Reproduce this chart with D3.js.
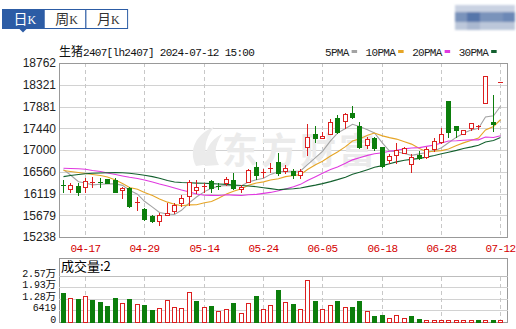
<!DOCTYPE html>
<html>
<head>
<meta charset="utf-8">
<script src="https://cdn.jsdelivr.net/npm/d3@7"></script>
<style>
  body { margin: 0; background: #fff; }
  svg { display: block; }
</style>
</head>
<body>
<div id="chart"></div>
<script>
// ─── Data ───
const dates = [
  '04-12','04-15','04-16','04-17','04-18','04-19','04-22','04-23','04-24','04-25',
  '04-26','04-29','04-30','05-06','05-07','05-08','05-09','05-10','05-13','05-14',
  '05-15','05-16','05-17','05-20','05-21','05-22','05-23','05-24','05-27','05-28',
  '05-29','05-30','05-31','06-03','06-04','06-05','06-06','06-07','06-11','06-12',
  '06-13','06-14','06-17','06-18','06-19','06-20','06-21','06-24','06-25','06-26',
  '06-27','06-28','07-01','07-02','07-03','07-04','07-05','07-09','07-11','07-12'
];
const opens = [
  16300,16205,16270,16255,16345,16350,16405,16393,16190,16225,
  15920,15805,15665,15570,15685,15765,15933,16060,16200,16250,
  16372,16262,16326,16393,16210,16358,16650,16528,16615,16751,
  16575,16575,16494,17067,17318,17253,17324,17654,17594,17756,
  17492,17101,17237,17055,16798,16899,16946,16717,16899,16852,
  17014,17168,17999,17486,17324,17440,17472,17958,17573,18370
];
const highs = [
  16390,16325,16325,16425,16460,16425,16420,16425,16257,16245,
  16055,15820,15685,15720,15920,15925,16080,16393,16393,16326,
  16393,16326,16460,16528,16291,16609,16763,16609,16731,16933,
  16700,16615,16615,17521,17492,17359,17628,17709,17743,17897,
  17573,17270,17270,17067,16913,17136,17055,16913,16980,17055,
  17237,17440,17999,17486,17405,17553,17507,18499,18114,18377
];
const lows = [
  16155,16155,16090,16155,16255,16255,16325,16145,16020,15840,
  15785,15580,15550,15480,15680,15725,15865,15885,16130,16156,
  16156,16204,16290,16204,16156,16346,16407,16460,16561,16494,
  16528,16439,16439,16899,17168,17237,17318,17338,17440,17642,
  17035,17047,17000,16662,16731,16731,16933,16561,16812,16832,
  16986,17148,17257,17257,17324,17405,17419,17958,17391,18370
];
const closes = [
  16285,16292,16155,16380,16360,16338,16330,16156,16237,15865,
  15940,15605,15570,15685,15715,15895,16028,16342,16257,16262,
  16225,16255,16407,16240,16255,16595,16494,16549,16636,16528,
  16642,16494,16575,17270,17237,17288,17561,17359,17723,17675,
  17067,17217,17047,16682,16879,17000,17035,16865,16832,17014,
  17189,17324,17371,17400,17405,17541,17492,18499,17527,18377
];
const prevClose = 16550;
const volumes = [
  16200,13440,12890,14380,12330,11060,9010,13440,10670,12890,
  10120,9400,6800,7910,12330,8460,7910,16760,11780,8460,
  9010,6080,7190,10670,4980,10510,14540,7190,9400,17860,
  11060,9950,7190,23060,11610,7190,9400,11610,8130,8300,
  11610,6080,3320,3870,2030,3700,2210,3320,1660,940,
  940,940,390,320,300,200,150,120,100,2
];
const ma5 = [
  16603,16494,16358,16332,16294,16305,16313,16313,16284,16185,
  16106,15961,15843,15733,15703,15694,15779,15933,16047,16157,
  16223,16268,16281,16278,16276,16350,16398,16427,16506,16560,
  16570,16570,16575,16702,16844,16973,17186,17343,17434,17521,
  17477,17408,17346,17138,16978,16965,16929,16892,16922,16949,
  16987,17045,17146,17260,17338,17408,17442,17667,17693,17887
];
const ma10 = [
  16585,16565,16544,16524,16504,16484,16454,16393,16322,16240,
  16205,16137,16078,16009,15944,15900,15870,15888,15890,15930,
  15958,16023,16107,16163,16217,16287,16333,16354,16392,16418,
  16460,16484,16501,16604,16702,16771,16878,16959,17068,17182,
  17225,17297,17344,17286,17250,17221,17168,17119,17030,16964,
  16976,16987,17019,17091,17144,17198,17243,17407,17476,17613
];
const ma20 = [
  16630,16626,16620,16610,16585,16565,16535,16504,16474,16447,
  16423,16393,16352,16312,16271,16231,16190,16150,16109,16085,
  16082,16080,16093,16086,16080,16093,16101,16121,16141,16174,
  16209,16254,16304,16383,16459,16529,16606,16656,16730,16800,
  16843,16891,16923,16945,16976,16996,17023,17039,17049,17073,
  17100,17142,17182,17188,17197,17209,17206,17263,17253,17288
];
const ma30 = [
  16460,16484,16504,16520,16528,16535,16539,16541,16539,16528,
  16510,16488,16460,16427,16383,16352,16342,16336,16330,16326,
  16318,16312,16304,16292,16281,16271,16257,16237,16217,16196,
  16208,16215,16229,16258,16288,16319,16360,16400,16450,16510,
  16548,16602,16651,16684,16723,16760,16793,16811,16830,16855,
  16887,16923,16955,16993,17032,17063,17097,17162,17191,17253
];
const priceTicks = [18762, 18321, 17881, 17440, 17000, 16560, 16119, 15679, 15238];
const volTicks = [0, 6419, 12838, 19257, 25676];
const volTickLabels = ['0', '6419', '1.28万', '1.93万', '2.57万'];
const dateTicks = ['04-17', '04-29', '05-14', '05-24', '06-05', '06-18', '06-28', '07-12'];
const tabs = ['日', '周', '月'];
const maNames = ['5PMA', '10PMA', '20PMA', '30PMA'];
const maSeries = [ma5, ma10, ma20, ma30];

// ─── Styles ───
const RED = '#dc1f1f';
const GREEN = '#0c7e0c';
const BLUE = '#2c5ca5';
const maColors = ['#a3a3a3', '#e6a526', '#e03ae0', '#13602e'];
const MONO = '"Liberation Mono", "DejaVu Sans Mono", monospace';
const CJK = '"Noto Sans CJK SC", sans-serif';

const W = 516, H = 329;
const main = { left: 59, right: 508, top: 63, bottom: 237 };
const vol = { top: 258, bottom: 322 };

const svg = d3.select('#chart').append('svg')
    .attr('width', W)
    .attr('height', H)
    .attr('viewBox', `0 0 ${W} ${H}`);

const x = d3.scaleBand().domain(d3.range(dates.length)).range([main.left, 504]);
const col = i => Math.round(x(i) + x.bandwidth() / 2);   // pixel column of a candle
const y = d3.scaleLinear().domain([15238, 18762]).range([main.bottom, main.top]);
const yv = d3.scaleLinear().domain([0, 25676]).range([vol.bottom, 275.5]);

// ─── Header tabs ───
const tabW = 41.7;
const tabG = svg.append('g');
tabs.forEach((t, k) => {
    const tx = 2.5 + k * tabW;
    tabG.append('rect')
        .attr('x', tx).attr('y', 9.5).attr('width', tabW).attr('height', 19)
        .attr('fill', k === 0 ? BLUE : '#fff')
        .attr('stroke', BLUE);
    const label = tabG.append('text')
        .attr('x', tx + 11).attr('y', 24)
        .attr('fill', k === 0 ? '#fff' : '#333');
    label.append('tspan').style('font-family', CJK).style('font-size', '14px').text(t);
    label.append('tspan').style('font-family', '"Liberation Serif", serif').style('font-size', '12px').text('K');
});
tabG.append('path')
    .attr('d', 'M19,28.5 L27,28.5 L23,32.5 Z')
    .attr('fill', BLUE);

// ─── Blurred block (top right) ───
const defs = svg.append('defs');
defs.append('filter').attr('id', 'blur')
    .append('feGaussianBlur').attr('stdDeviation', 1.2);
const mosaic = [
    [455, 5, 60, 8, '#c9d2e2'],
    [455, 12, 60, 10, '#7a93bb'],
    [467, 12, 13, 10, '#5676aa'],
    [503, 12, 12, 10, '#6c88b6'],
    [455, 22, 60, 8, '#bcc7da'],
    [467, 22, 13, 8, '#aab8d0'],
];
svg.append('g').attr('filter', 'url(#blur)')
    .selectAll('rect').data(mosaic).join('rect')
    .attr('x', d => d[0]).attr('y', d => d[1])
    .attr('width', d => d[2]).attr('height', d => d[3])
    .attr('fill', d => d[4]);

// ─── Title + legend ───
const title = svg.append('text').attr('x', main.left).attr('y', 56).attr('fill', '#111');
title.append('tspan').style('font-family', CJK).style('font-size', '12px').text('生猪');
title.append('tspan').style('font-family', MONO).style('font-size', '11px')
    .style('letter-spacing', '-0.7px').text('2407[lh2407] 2024-07-12 15:00');

let lx = 325;
maNames.forEach((name, k) => {
    const t = svg.append('text')
        .attr('x', lx).attr('y', 56)
        .attr('fill', '#222')
        .style('font-family', MONO).style('font-size', '11px').style('letter-spacing', '-0.7px')
        .text(name);
    const w = t.node().getComputedTextLength();
    svg.append('rect')
        .attr('x', lx + w + 3).attr('y', 50).attr('width', 5.5).attr('height', 3)
        .attr('fill', maColors[k]);
    lx += w + 3 + 5.5 + 8.5;
});

// ─── Main panel: grid ───
const gridG = svg.append('g');
gridG.selectAll('line.h')
    .data(priceTicks)
    .join('line')
    .attr('x1', main.left).attr('x2', main.right)
    .attr('y1', d => Math.round(y(d)) + 0.5).attr('y2', d => Math.round(y(d)) + 0.5)
    .attr('stroke', '#d2d2d2');

const tickIdx = dateTicks.map(t => dates.indexOf(t));
gridG.selectAll('line.v')
    .data(tickIdx)
    .join('line')
    .attr('x1', i => col(i) + 0.5).attr('x2', i => col(i) + 0.5)
    .attr('y1', main.top).attr('y2', main.bottom)
    .attr('stroke', '#c8c8c8')
    .attr('stroke-dasharray', '4,3');

// watermark
const wm = svg.append('g').attr('fill', '#ebebeb');
wm.append('path')
    .attr('d', 'M196,166 C188,150 196,134 214,127 C204,140 203,152 210,164 Z M205,166 C203,152 210,140 222,134 C214,146 214,156 219,165 Z');
wm.append('text')
    .attr('x', 222).attr('y', 164)
    .style('font-family', CJK).style('font-size', '36px').style('font-weight', 700)
    .style('letter-spacing', '3px')
    .text('东方财富');

// ─── Moving averages ───
const line = d3.line()
    .x((d, i) => col(i) + 0.5)
    .y(d => y(d));
svg.append('g')
    .selectAll('path')
    .data(maSeries)
    .join('path')
    .attr('d', line)
    .attr('fill', 'none')
    .attr('stroke', (d, k) => maColors[k])
    .attr('stroke-width', 1.1);

// ─── Candles ───
const candles = svg.append('g')
    .selectAll('g')
    .data(d3.range(dates.length))
    .join('g');

const isUp = i => closes[i] >= opens[i];
const colorOf = i => isUp(i) ? RED : GREEN;

candles.append('line')
    .attr('x1', i => col(i) + 0.5).attr('x2', i => col(i) + 0.5)
    .attr('y1', i => Math.round(y(highs[i]))).attr('y2', i => Math.round(y(lows[i])) + 1)
    .attr('stroke', colorOf);

candles.append('rect')
    .each(function(i) {
        const top = Math.round(y(Math.max(opens[i], closes[i])));
        const bot = Math.round(y(Math.min(opens[i], closes[i])));
        const r = d3.select(this);
        const c = col(i);
        if (bot - top < 2) {
            r.attr('x', c - 2).attr('y', top).attr('width', 5).attr('height', 1)
             .attr('fill', colorOf(i));
        } else if (isUp(i)) {
            r.attr('x', c - 1.5).attr('y', top + 0.5).attr('width', 4).attr('height', bot - top)
             .attr('fill', '#fff').attr('stroke', RED);
        } else {
            r.attr('x', c - 2).attr('y', top).attr('width', 5).attr('height', bot - top + 1)
             .attr('fill', GREEN);
        }
    });

// ─── Main panel: border + axes labels ───
svg.append('rect')
    .attr('x', main.left + 0.5).attr('y', main.top + 0.5)
    .attr('width', main.right - main.left - 1).attr('height', main.bottom - main.top)
    .attr('fill', 'none').attr('stroke', '#999');

svg.append('g')
    .selectAll('text')
    .data(priceTicks)
    .join('text')
    .attr('x', 56).attr('y', d => y(d))
    .attr('dy', '0.36em')
    .attr('text-anchor', 'end')
    .attr('fill', '#222')
    .style('font-family', '"Liberation Sans", Arial, sans-serif')
    .style('font-size', '12px')
    .text(d => d);

svg.append('g')
    .selectAll('text')
    .data(tickIdx)
    .join('text')
    .attr('x', i => col(i) + 0.5).attr('y', 252)
    .attr('text-anchor', 'middle')
    .attr('fill', '#d40000')
    .style('font-family', MONO).style('font-size', '11px').style('letter-spacing', '-0.6px')
    .text(i => dates[i]);

// ─── Volume panel ───
const volG = svg.append('g');
volG.append('rect')
    .attr('x', main.left + 0.5).attr('y', vol.top + 0.5)
    .attr('width', main.right - main.left - 1).attr('height', vol.bottom - vol.top)
    .attr('fill', '#fff').attr('stroke', '#999');

volG.selectAll('line.h')
    .data(volTicks.slice(1))
    .join('line')
    .attr('x1', main.left).attr('x2', main.right)
    .attr('y1', d => Math.round(yv(d)) + 0.5).attr('y2', d => Math.round(yv(d)) + 0.5)
    .attr('stroke', (d, k) => k === volTicks.length - 2 ? '#bdbdbd' : '#d2d2d2');

volG.selectAll('line.v')
    .data(tickIdx)
    .join('line')
    .attr('x1', i => col(i) + 0.5).attr('x2', i => col(i) + 0.5)
    .attr('y1', Math.round(yv(25676)) + 1).attr('y2', vol.bottom)
    .attr('stroke', '#c8c8c8')
    .attr('stroke-dasharray', '4,3');

const volUp = i => closes[i] >= (i ? closes[i - 1] : prevClose);
volG.selectAll('rect.bar')
    .data(d3.range(volumes.length))
    .join('rect')
    .attr('class', 'bar')
    .each(function(i) {
        const r = d3.select(this);
        const c = col(i);
        const top = Math.min(Math.round(yv(volumes[i])), vol.bottom - 2);
        if (volUp(i)) {
            r.attr('x', c - 1.5).attr('y', top + 0.5).attr('width', 4).attr('height', vol.bottom - top)
             .attr('fill', '#fff').attr('stroke', RED);
        } else {
            r.attr('x', c - 2).attr('y', top).attr('width', 5).attr('height', vol.bottom - top + 1)
             .attr('fill', GREEN);
        }
    });

volG.append('text')
    .attr('x', 61).attr('y', 271)
    .attr('fill', '#000')
    .style('font-family', CJK).style('font-size', '13px')
    .text('成交量:' + volumes[volumes.length - 1]);

// labels sit just above their grid line, tight like the original
const vLabels = volG.append('g')
    .selectAll('text')
    .data(volTicks)
    .join('text')
    .attr('x', 56).attr('y', d => Math.round(yv(d)) + 0.5)
    .attr('text-anchor', 'end')
    .attr('fill', '#111');
vLabels.each(function(d, k) {
    const lab = volTickLabels[k];
    const t = d3.select(this);
    const num = lab.replace('万', '');
    t.append('tspan').style('font-family', MONO).style('font-size', '10px')
        .style('letter-spacing', '-0.2px').text(num);
    if (lab.endsWith('万')) {
        t.append('tspan').style('font-family', CJK).style('font-size', '10.5px').text('万');
    }
});
</script>
</body>
</html>
